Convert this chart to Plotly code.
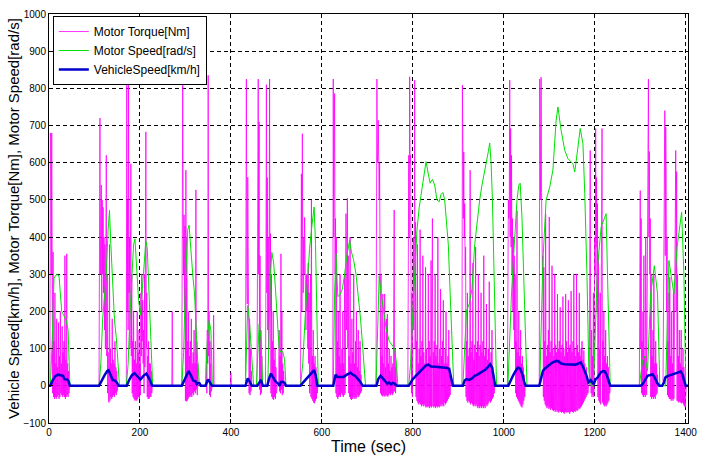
import plotly.graph_objects as go

# ---------------- Vehicle speed [km/h] (time in s, value) ----------------
veh_t = [0, 3, 8, 14, 20, 26, 31, 34, 40, 43, 46,
         110, 116, 122, 128, 131, 136, 140, 145, 149, 153,
         171, 176, 182, 188, 194, 201, 207, 214, 220, 227,
         292, 297, 302, 307, 312, 317, 322, 325, 328, 331, 334,
         344, 348, 350, 354, 358,
         432, 434, 437, 441, 446,
         458, 462, 466, 470,
         480, 484, 488, 492, 496, 500, 504, 507, 510, 514, 518, 521,
         553, 558, 563, 568, 573, 578, 583, 586, 590,
         625, 628, 630, 634, 642, 648, 655, 663, 668, 673, 678, 683, 690,
         720, 724, 729, 734, 739, 744, 748, 752, 756, 760, 765,
         791, 795, 800, 806, 812, 818, 824, 829, 834, 840, 850, 860, 870, 876, 880, 884, 888,
         910, 914, 918, 924, 930, 936, 942, 948, 954, 960, 965, 970, 974, 977, 981,
         1010, 1015, 1020, 1025, 1031, 1036, 1041, 1045, 1048,
         1078, 1082, 1086, 1092, 1098, 1104, 1108, 1112, 1116, 1120, 1126, 1134, 1142, 1150,
         1158, 1164, 1169, 1174, 1178, 1182, 1186, 1188, 1191, 1194, 1198, 1202, 1206, 1210,
         1214, 1218, 1222, 1226, 1230, 1234,
         1300, 1304, 1308, 1312, 1316, 1322, 1327, 1332, 1337, 1342, 1348, 1352, 1355, 1360,
         1366, 1372, 1378, 1384, 1389, 1393, 1396, 1400, 1405]
veh_v = [0, 0, 15, 26, 30, 28, 27, 18, 17, 12, 0,
         0, 15, 28, 40, 42, 28, 16, 14, 9, 0,
         0, 15, 28, 34, 26, 17, 26, 33, 20, 0,
         0, 14, 30, 40, 28, 14, 12, 5, 8, 7, 0,
         0, 12, 17, 9, 0,
         0, 12, 20, 12, 0,
         0, 10, 16, 0,
         0, 20, 33, 25, 15, 10, 6, 0, 10, 11, 8, 0,
         0, 8, 15, 22, 28, 36, 42, 30, 0,
         0, 20, 30, 24, 23, 24, 30, 35, 30, 27, 20, 13, 0,
         0, 18, 27, 20, 12, 6, 9, 4, 8, 6, 0,
         0, 8, 18, 26, 34, 42, 50, 55, 57, 52, 51, 50, 50, 48, 45, 25, 0,
         0, 14, 18, 16, 20, 27, 30, 34, 38, 44, 50, 58, 50, 30, 0,
         0, 15, 27, 38, 49, 46, 30, 10, 0,
         0, 20, 40, 48, 55, 60, 63, 65, 67, 66, 60, 58, 58, 58,
         57, 60, 63, 52, 40, 27, 9, 12, 15, 10, 5, 18, 22, 30,
         37, 40, 39, 30, 12, 0,
         0, 3, 10, 20, 27, 29, 31, 22, 8, 0, 0, 8, 22, 26,
         28, 31, 33, 36, 39, 30, 15, 0, 0]

# ---------------- Motor speed [rad/s] ----------------
mot_t = [3, 7, 11, 17, 22, 25, 28, 33, 38, 42, 46,
         110, 114, 118, 122, 126, 130, 133, 136, 140, 144, 148, 152, 155,
         170, 174, 178, 182, 186, 189, 193, 197, 201, 205, 209, 213, 216, 220, 224, 228,
         292, 296, 300, 305, 308, 312, 316, 320, 326, 331,
         344, 348, 352, 356, 359,
         432, 434, 437, 441, 446, 450,
         456, 459, 462, 466, 470,
         481, 484, 487, 490, 494, 498, 502, 506, 510, 514, 518, 521,
         553, 558, 563, 568, 573, 578, 583, 586, 589, 592,
         625, 628, 631, 635, 640, 645, 650, 655, 661, 665, 670, 675, 680, 685, 690, 696,
         719, 722, 726, 730, 734, 738, 742, 748, 754, 760, 764, 767,
         791, 795, 800, 805, 809, 814, 820, 825, 829, 834, 838, 843, 848, 853, 858, 862,
         866, 870, 874, 878, 882, 886, 890,
         910, 914, 918, 924, 930, 936, 942, 947, 952, 957, 962, 966, 969, 972, 975, 978, 981, 984,
         1009, 1013, 1017, 1021, 1025, 1029, 1033, 1036, 1040, 1044, 1048, 1051,
         1079, 1086, 1093, 1101, 1108, 1115, 1119, 1126, 1134, 1141, 1152, 1156, 1163, 1168,
         1174, 1178, 1183, 1187, 1192, 1197, 1199, 1206, 1214, 1225, 1229, 1234,
         1298, 1305, 1310, 1316, 1323, 1331, 1338, 1343, 1356, 1363, 1374, 1381, 1391, 1396,
         1400, 1405]
mot_v = [0, 120, 290, 300, 296, 240, 200, 188, 175, 150, 0,
         0, 60, 180, 230, 300, 420, 472, 380, 260, 175, 130, 60, 0,
         0, 60, 190, 290, 380, 395, 320, 230, 190, 250, 330, 390, 370, 230, 90, 0,
         0, 90, 280, 420, 432, 355, 300, 247, 85, 0,
         0, 120, 175, 150, 0,
         0, 120, 216, 170, 60, 0,
         0, 100, 165, 130, 0,
         0, 150, 300, 359, 330, 260, 180, 100, 90, 92, 70, 0,
         0, 60, 180, 280, 370, 430, 481, 380, 150, 0,
         0, 250, 355, 240, 245, 260, 300, 350, 391, 360, 337, 300, 240, 180, 100, 0,
         0, 150, 296, 250, 210, 183, 150, 120, 110, 100, 60, 0,
         0, 60, 200, 330, 418, 480, 534, 580, 603, 570, 545, 555, 540, 500, 495, 515,
         520, 500, 440, 380, 250, 100, 0,
         0, 120, 202, 220, 260, 380, 450, 500, 540, 570, 600, 630, 653, 600, 500, 300, 120, 0,
         0, 157, 250, 337, 420, 500, 540, 545, 450, 300, 120, 0,
         0, 337, 499, 535, 580, 714, 750, 687, 633, 611, 597, 575, 642, 692,
         651, 517, 292, 40, 0, 0, 67, 319, 427, 463, 247, 0,
         0, 67, 80, 40, 247, 323, 247, 0, 0, 337, 247, 373, 467, 300,
         0, 0]

# ---------------- Motor torque [Nm], 1 s samples per driving segment ----------------
tq_01 = [0, 0, 0, 680, 670, 300, 680, 370, -20, 360, -30, 120, -35, 250, -30, 60, -35, 180,
         -30, 50, -25, 170, -35, 80, -30, 200, -20, 60, -25, 160, -30, 90, -25, 120, -30,
         350, -35, 70, -30, 355, -25, 60, -30, 40, -20, 0]
tq_02 = [0, 400, 720, 300, 534, 540, 200, 500, 300, 480, 250, 400, 150, 380, 100, 250, 620,
         80, 300, -20, 90, -40, -45, 380, -40, 100, -30, 60, -35, 180, -30, 70, -25, 60,
         -30, 120, -20, 50, -25, 40, -15, 0]
tq_03 = [0, 825, 200, 500, 150, 813, 250, 400, 100, 350, 597, 80, 300, -20, 120, -30, 200,
         -35, 70, -40, 120, -38, 60, -40, 200, -35, 90, -30, 150, -35, 60, -25, 250, 80,
         300, 120, 230, 60, 150, -20, 300, 50, 350, 683, 100, 250, -30, 80, -35, 120, -35,
         60, -30, 60, -30, 40, -20, 0]
tq_04 = [0, 200, 0]
tq_05 = [0, 400, 825, 450, 300, 460, 200, 430, -40, 580, -42, 400, -40, 120, -35, 200, -30,
         80, -30, 120, -25, 180, -30, 60, -20, 90, -25, 150, -15, 60, -20, 527, -10, 120,
         -25, 60, 0]
tq_06 = [0, 100, -20, 150, 60, 835, 80, 200, -25, 120, -30, 60, -15, 0, 0, 0, 0, 190, 0]
tq_07 = [0, 35, 0]
tq_08 = [0, 400, 825, 300, 220, 561, 150, 220, -20, 180, -25, 100, -15, 40, 0]
tq_09 = [0, 200, 400, 825, 300, 710, -10, 350, -25, 150, -20, 80, 0]
tq_10 = [0, 300, 810, 250, 560, 150, 400, 100, 300, 825, 200, 409, -20, 300, -30, 120, -35,
         200, -38, 70, -30, 100, -35, 50, -20, 0, 0, 0, 0, 0, 150, -15, 80, -20, 355, -10,
         200, -25, 60, -20, 40, 0]
tq_11 = [0, 300, 570, 200, 678, 350, 250, 400, 300, 453, 250, 350, 150, 300, 200, 300, 100,
         330, 60, 250, -20, 100, 300, -30, 500, -35, 80, -40, 150, -45, 60, -47, 80, -40,
         50, -35, 20, -20, 0]
tq_12 = [0, 825, 400, 600, 786, 300, 450, -20, 400, -30, 120, -35, 200, -30, 80, -25, 300,
         -30, 60, -20, 100, -25, 200, -30, 60, -25, 300, -20, 100, 463, 150, 200, 505, 100,
         350, -20, 80, -30, 400, -35, 60, -38, 180, -35, 90, -30, 300, -35, 60, -30, 120,
         -35, 200, -30, 50, -25, 150, -30, 40, -25, 120, -20, 30, -15, 0]
tq_13 = [0, 560, 825, 600, 620, 714, 580, 500, 600, 400, -20, 300, -25, 80, -28, 247, -25,
         60, -29, 247, -25, 50, -28, 180, -25, 193, -29, 60, -25, 100, -20, 40, -25, 80,
         -20, 50, -25, 60, -20, 200, 473, -15, 100, -20, 50, 0]
tq_14 = [0, 300, 620, 400, 831, 600, 620, 300, -20, 250, -30, 200, 400, 150, 300, 822, 100,
         440, -30, 120, -40, 380, -45, 60, -50, 100, -45, 420, -50, 80, -55, 120, -50, 350,
         -55, 90, -50, 60, -55, 319, -58, 100, -55, 60, -58, 301, -55, 120, -60, 80, -55,
         337, -58, 100, 450, -55, 90, -58, 120, -55, 300, -60, 80, -55, 110, -58, 400, -55,
         60, -58, 100, -55, 260, -50, 80, -55, 120, -50, 230, -55, 60, -45, 100, -50, 200,
         -45, 60, -40, 80, -35, 150, -30, 50, -25, 20, 0]
tq_15 = [0, 809, 650, 450, 629, 400, 490, 300, 373, -30, 120, -40, 250, -45, 80, -40, 100,
         -45, 580, -50, 90, -45, 120, -50, 330, -55, 70, -50, 110, -55, 373, -50, 90, -55,
         120, -60, 300, -55, 80, -60, 110, -55, 250, -60, 90, -55, 120, -60, 350, -55, 80,
         -60, 100, -50, 220, -55, 70, -50, 100, -45, 280, -40, 60, -45, 90, -40, 150, -35,
         50, -30, 30, -20, 0]
tq_16 = [0, 300, 500, 450, 470, 822, 400, 692, 373, 620, 300, 450, 200, 400, 150, 350, 100,
         300, -20, 120, -30, 471, -35, 90, -40, 200, -45, 80, -50, 150, -55, 60, -58, 80,
         -50, 50, -40, 30, -30, 0]
tq_17 = [0, 825, 647, 500, 830, 520, 400, 300, 350, -30, 319, -40, 120, -50, 463, -55, 80,
         -60, 110, -55, 150, -62, 454, -58, 90, -65, 120, -60, 323, -65, 100, -68, 80, -65,
         301, -70, 110, -65, 90, -70, 247, -68, 100, -72, 120, -68, 211, -70, 90, -72, 110,
         -70, 240, -72, 100, -75, 80, -70, 247, -72, 120, -70, 90, -72, 230, -70, 100, -75,
         110, -70, 255, -68, 90, -70, 120, -72, 301, -68, 100, -70, 80, -65, 301, -68, 110,
         -65, 90, -60, 250, -62, 80, -58, 100, -55, 120, -50, 70, -45, 95, -40, 60, -35, 40,
         -30, 50, -25, 20, -20, 0]
tq_18 = [0, 300, 633, 100, -20, 150, -30, 80, -25, 250, -30, 100, 400, 300, 692, 373, 560,
         200, 490, -30, 350, -40, 100, -45, 250, -50, 400, 300, 692, -45, 120, -50, 200, -55,
         80, -50, 150, -55, 60, -50, 80, -45, 50, -40, 20, -20, 0]
tq_19 = [0, 300, 525, 100, 450, -20, 120, -25, 200, -30, 350, -25, 80, -30, 400, 200, -25,
         300, 100, 450, 825, 400, 630, 300, 450, -30, 301, -35, 80, -30, 150, -35, 300, -30,
         60, -35, 120, -25, 60, -20, 30, 0]
tq_20 = [0, 200, 400, 300, 740, 350, 696, 570, 200, 400, -25, 120, -30, 250, -35, 292, -35,
         80, -40, 200, -35, 60, -40, 250, -35, 300, 200, 450, 633, 200, 576, -40, 300, -42,
         80, -45, 150, -42, 60, -45, 150, -47, 50, -45, 100, -50, 50, -55, 30, -58, -20, 0]
tq_starts = [0, 110, 170, 270, 292, 345, 399, 432, 457, 476, 553, 624, 719, 789, 908, 1008,
             1078, 1188, 1298, 1350]
tq_segments = [tq_01, tq_02, tq_03, tq_04, tq_05, tq_06, tq_07, tq_08, tq_09, tq_10, tq_11,
               tq_12, tq_13, tq_14, tq_15, tq_16, tq_17, tq_18, tq_19, tq_20]

tq_t, tq_v = [], []
for start, seg in zip(tq_starts, tq_segments):
    for i, val in enumerate(seg):
        tq_t.append(start + i)
        tq_v.append(val)
tq_t.append(1405)
tq_v.append(0)

x_ticks = [0, 200, 400, 600, 800, 1000, 1200, 1400]
y_ticks = [-100, 0, 100, 200, 300, 400, 500, 600, 700, 800, 900, 1000]

fig = go.Figure()
fig.add_trace(go.Scatter(x=tq_t, y=tq_v, mode="lines", name="Motor Torque[Nm]",
                         line=dict(color="#ff00ff", width=0.8)))
fig.add_trace(go.Scatter(x=mot_t, y=mot_v, mode="lines", name="Motor Speed[rad/s]",
                         line=dict(color="#00e000", width=1)))
fig.add_trace(go.Scatter(x=veh_t, y=veh_v, mode="lines", name="VehicleSpeed[km/h]",
                         line=dict(color="#0000cc", width=2.5)))

axis_common = dict(showline=True, linecolor="black", linewidth=1, mirror=True,
                   ticks="inside", ticklen=4, tickcolor="black", automargin=False,
                   showgrid=True, gridcolor="black", gridwidth=1, griddash="4px,3px",
                   zeroline=False, tickfont=dict(size=10, color="black"))

fig.update_layout(
    width=703, height=461,
    margin=dict(l=49, r=15, t=14, b=38),
    paper_bgcolor="white", plot_bgcolor="white",
    font=dict(family="Arial, Liberation Sans, sans-serif", size=10, color="black"),
    legend=dict(x=0.006, y=0.995, xanchor="left", yanchor="top", bgcolor="white",
                bordercolor="black", borderwidth=1, font=dict(size=12),
                itemwidth=30, tracegroupgap=0),
    xaxis=dict(range=[0, 1405], tickvals=x_ticks,
               title=dict(text="Time (sec)", font=dict(size=16), standoff=2),
               **axis_common),
    yaxis=dict(range=[-100, 1000], tickvals=y_ticks,
               title=dict(text="Vehicle Speed[km/h], Motor Torque[Nm], Motor Speed[rad/s]",
                          font=dict(size=15), standoff=0),
               **axis_common),
)

fig.write_html("out.html")
